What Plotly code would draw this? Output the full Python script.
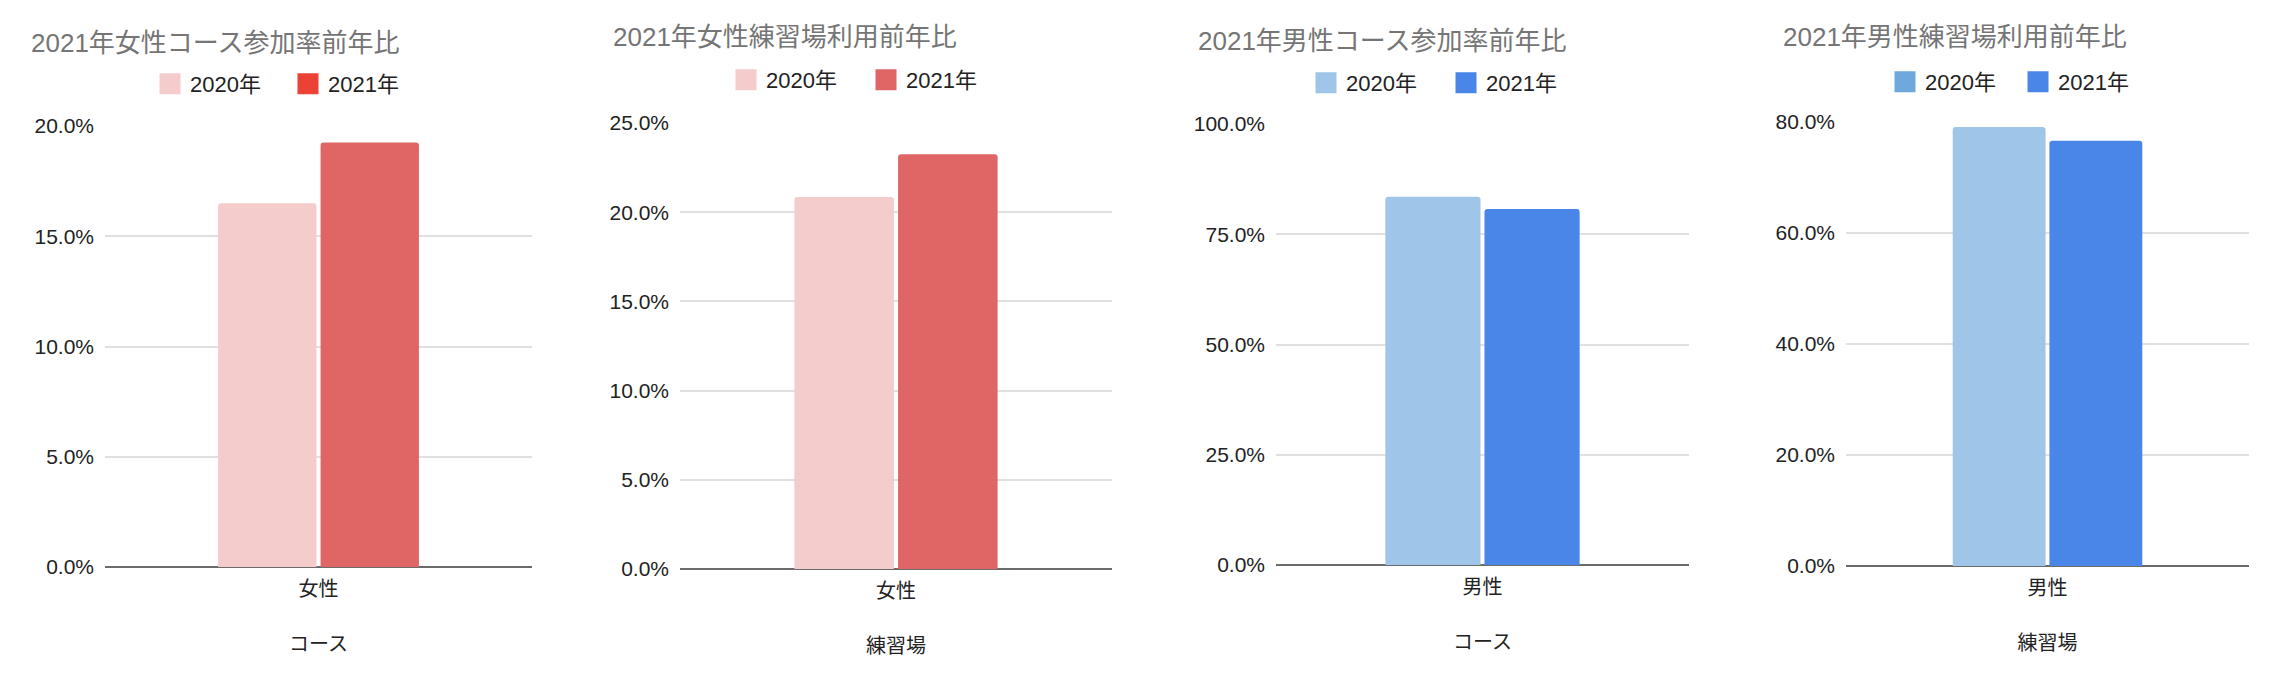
import plotly.graph_objects as go

# ---------------- data ----------------
years = ["2020年", "2021年"]
female_cat = ["女性"]
male_cat = ["男性"]

female_course_2020 = [0.165]
female_course_2021 = [0.1925]
female_practice_2020 = [0.2085]
female_practice_2021 = [0.2325]
male_course_2020 = [0.835]
male_course_2021 = [0.807]
male_practice_2020 = [0.791]
male_practice_2021 = [0.766]

titles = ["2021年女性コース参加率前年比", "2021年女性練習場利用前年比",
          "2021年男性コース参加率前年比", "2021年男性練習場利用前年比"]
x_titles = ["コース", "練習場", "コース", "練習場"]
y_max = [0.20, 0.25, 1.00, 0.80]
y_dtick = [0.05, 0.05, 0.25, 0.20]

# ---------------- styling ----------------
W, H = 2272, 690
FONT = "Liberation Sans, Arial, Noto Sans CJK JP, sans-serif"
bar_colors = [("#f4cccc", "#e06666"), ("#f4cccc", "#e06666"),
              ("#9fc5e8", "#4a86e8"), ("#9fc5e8", "#4a86e8")]
legend_colors = [("#f4cccc", "#ea4335"), ("#f4cccc", "#e06666"),
                 ("#9fc5e8", "#4a86e8"), ("#6fa8dc", "#4a86e8")]

# plot areas in pixels: (left, right, top, bottom)
areas = [(105, 532, 126, 567), (680, 1112, 123, 569),
         (1276, 1689, 124, 565), (1846, 2249, 122, 566)]
title_pos = [(29, 43), (611, 37), (1196, 41), (1781, 37)]
legend_pos = [(175, 84), (751, 80), (1331, 83), (1910, 82)]
legend_entry = [93, 95, 95, 88]

panels = [
    (female_cat, female_course_2020, female_course_2021),
    (female_cat, female_practice_2020, female_practice_2021),
    (male_cat, male_course_2020, male_course_2021),
    (male_cat, male_practice_2020, male_practice_2021),
]

fig = go.Figure()
annotations = []
layout = {}

for i, (cats, v20, v21) in enumerate(panels):
    n = "" if i == 0 else str(i + 1)
    xa, ya = "x" + n, "y" + n
    lg = "legend" + n
    for j, vals in enumerate([v20, v21]):
        fig.add_trace(go.Bar(
            x=cats, y=vals, name=years[j], xaxis=xa, yaxis=ya,
            marker=dict(color=bar_colors[i][j], line=dict(width=0), cornerradius=3),
            showlegend=False,
        ))
    for j in range(2):
        fig.add_trace(go.Scatter(
            x=[None], y=[None], mode="markers", name=years[j], xaxis=xa, yaxis=ya,
            marker=dict(symbol="square", size=16, color=legend_colors[i][j],
                        line=dict(width=5, color=legend_colors[i][j])),
            legend=lg, showlegend=True,
        ))
    l, r, t, b = areas[i]
    layout["xaxis" + n] = dict(
        domain=[l / W, r / W], anchor=ya, type="category", automargin=False,
        showgrid=False, showline=False, zeroline=False,
        tickfont=dict(size=20, color="#222222", family=FONT),
        ticklabelstandoff=8,
        title=dict(text=x_titles[i], font=dict(size=20, color="#222222", family=FONT), standoff=37),
    )
    layout["yaxis" + n] = dict(
        domain=[1 - b / H, 1 - t / H], anchor=xa, automargin=False,
        range=[0, y_max[i]], dtick=y_dtick[i], tickformat=".1%",
        showgrid=True, gridcolor="#e0e0e0", gridwidth=2,
        zeroline=True, zerolinecolor="#6b6b6b", zerolinewidth=2,
        showline=False,
        tickfont=dict(size=21, color="#222222", family=FONT),
        ticklabelstandoff=10,
    )
    lx, ly = legend_pos[i]
    layout[lg] = dict(
        orientation="h", x=(lx - 25) / W, xanchor="left",
        y=1 - ly / H, yanchor="middle",
        font=dict(size=22, color="#222222", family=FONT),
        entrywidth=legend_entry[i], entrywidthmode="pixels",
        bgcolor="rgba(0,0,0,0)", itemclick=False,
    )
    tx, ty = title_pos[i]
    annotations.append(dict(
        text=titles[i], xref="paper", yref="paper",
        x=tx / W, y=1 - ty / H, xanchor="left", yanchor="middle",
        showarrow=False, font=dict(size=26, color="#757575", family=FONT),
    ))

fig.update_layout(
    width=W, height=H, margin=dict(l=0, r=0, t=0, b=0, autoexpand=False),
    paper_bgcolor="white", plot_bgcolor="white",
    barmode="group", bargap=0.52, bargroupgap=0.04,
    annotations=annotations,
    font=dict(family=FONT),
    **layout,
)

fig.write_html("out.html")
